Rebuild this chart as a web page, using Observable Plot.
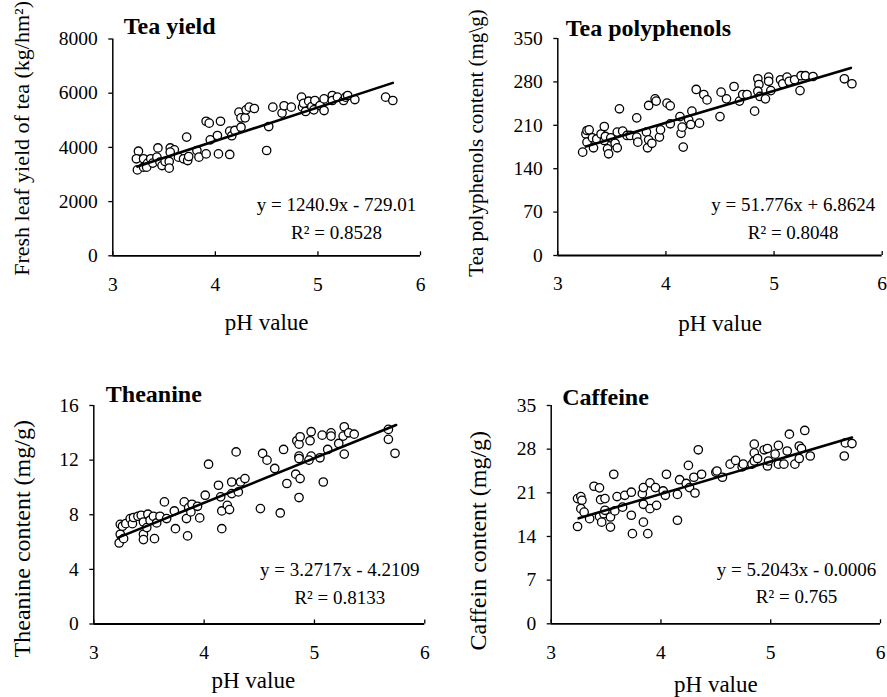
<!DOCTYPE html>
<html><head><meta charset="utf-8">
<script src="https://cdn.jsdelivr.net/npm/d3@7"></script>
<script src="https://cdn.jsdelivr.net/npm/@observablehq/plot@0.6"></script>
<style>
body{margin:0;background:#fff;}
#chart{position:relative;width:887px;height:697px;background:#fff;overflow:hidden;}
.panel{position:absolute;}
</style></head><body><div id="chart"></div>
<script>
// ---------- data ----------
const phTicks = [3, 4, 5, 6];
const panelTitles = ["Tea yield", "Tea polyphenols", "Theanine", "Caffeine"];
const yTitles = ["Fresh leaf yield of tea (kg/hm²)", "Tea polyphenols content (mg\\g)", "Theanine content (mg/g)", "Caffein content (mg/g)"];
const xTitle = "pH value";
const equations = ["y = 1240.9x - 729.01", "y = 51.776x + 6.8624", "y = 3.2717x - 4.2109", "y = 5.2043x - 0.0006"];
const r2Labels = ["R² = 0.8528", "R² = 0.8048", "R² = 0.8133", "R² = 0.765"];
const fitSlope = [1240.9, 51.776, 3.2717, 5.2043];
const fitIntercept = [-729.01, 6.8624, -4.2109, -0.0006];
const fitStart = [3.24, 3.26, 3.22, 3.25];
const fitEnd = [5.73, 5.71, 5.74, 5.74];

const yieldTicks = [0, 2000, 4000, 6000, 8000];
const polyTicks = [0, 70, 140, 210, 280, 350];
const theaTicks = [0, 4, 8, 12, 16];
const caffTicks = [0, 7, 14, 21, 28, 35];

const yieldPH = [3.25,3.23,3.24,3.30,3.30,3.34,3.37,3.33,3.39,3.43,3.44,3.46,3.48,3.51,3.55,3.55,3.56,3.60,3.56,3.64,3.69,3.73,3.74,3.72,3.82,3.84,3.91,3.91,3.94,4.05,3.95,4.02,4.03,4.14,4.14,4.16,4.19,4.25,4.23,4.25,4.29,4.30,4.33,4.38,4.50,4.52,4.56,4.65,4.67,4.74,4.84,4.85,4.86,4.88,4.91,4.94,4.97,4.96,5.02,5.06,5.06,5.14,5.14,5.19,5.25,5.27,5.29,5.36,5.66,5.73];
const yieldVal = [3860,3580,3170,3580,3270,3420,3580,3270,3420,3640,3980,3455,3330,3480,3480,3235,3980,3910,3825,3640,3580,3515,3665,4380,3885,3640,3760,4965,4895,4965,4280,4440,3760,3740,4600,4430,4625,4745,5300,5090,5090,5385,5485,5435,3885,4770,5485,5265,5535,5485,5855,5485,5630,5325,5705,5510,5730,5385,5545,5790,5360,5915,5730,5855,5730,5855,5915,5765,5855,5730];

const polyPH = [3.23,3.26,3.27,3.29,3.27,3.32,3.33,3.36,3.40,3.43,3.43,3.44,3.46,3.47,3.49,3.53,3.55,3.55,3.57,3.60,3.64,3.67,3.73,3.73,3.74,3.82,3.83,3.84,3.84,3.87,3.90,3.94,3.95,4.01,4.04,4.04,4.13,4.14,4.15,4.16,4.21,4.23,4.24,4.28,4.31,4.35,4.38,4.50,4.51,4.56,4.63,4.68,4.71,4.75,4.82,4.85,4.86,4.85,4.87,4.92,4.95,4.95,4.97,5.06,5.08,5.12,5.14,5.19,5.24,5.25,5.29,5.36,5.65,5.72,3.91];
const polyVal = [166.7,196,201.6,202.7,182.8,189.8,173.7,188,196,208,185.5,192,172,164,189.8,181,173.7,199,236.6,200.6,193.6,193.6,222,191,182.8,199,173.7,186.6,242,181,252.7,191,202.7,245.7,241.4,212.4,224,197,207,174.8,218.8,211.3,232.8,267.8,213.5,259.7,251,224,263.5,252.7,272.6,249,259.7,259.7,232.8,285,275.8,265,256.5,252.7,287.7,281,266,283.4,277,287.7,281,283.4,266,290,290,288.7,285,277,249];

const theaPH = [3.23,3.24,3.27,3.24,3.26,3.29,3.33,3.35,3.36,3.40,3.43,3.45,3.45,3.45,3.48,3.49,3.51,3.54,3.55,3.57,3.60,3.64,3.66,3.73,3.74,3.82,3.84,3.85,3.86,3.88,3.89,3.94,3.96,4.01,4.04,4.13,4.15,4.16,4.16,4.21,4.23,4.25,4.25,4.29,4.31,4.33,4.37,4.51,4.53,4.57,4.64,4.69,4.72,4.75,4.83,4.84,4.86,4.87,4.86,4.86,4.87,4.86,4.96,4.97,4.97,4.95,5.05,5.07,5.08,5.12,5.15,5.15,5.22,5.26,5.27,5.27,5.31,5.36,5.67,5.67,5.73];
const theaVal = [5.93,6.57,6.25,7.30,7.16,7.35,7.72,7.35,7.80,7.89,7.96,7.47,6.57,6.18,7.06,8.04,7.6,7.89,6.25,7.40,7.89,8.94,7.72,8.28,6.98,8.94,7.72,6.45,8.52,8.21,8.77,8.62,7.77,9.43,11.7,10.16,9.31,6.98,8.28,8.69,8.38,9.55,10.4,12.6,9.67,10.4,10.65,8.45,12.49,12.0,11.39,8.13,12.78,10.29,10.97,13.42,13.17,13.71,12.29,12.12,10.65,9.26,13.42,14.08,12.29,12.0,12.17,13.83,10.4,12.78,14.0,13.76,13.22,13.76,14.44,12.44,14.0,13.9,14.25,13.52,12.5];

const caffPH = [3.24,3.24,3.27,3.28,3.27,3.30,3.35,3.39,3.44,3.45,3.49,3.44,3.46,3.48,3.49,3.54,3.54,3.57,3.58,3.60,3.65,3.67,3.73,3.73,3.74,3.83,3.84,3.84,3.84,3.88,3.90,3.90,3.95,3.96,4.02,4.04,4.05,4.15,4.15,4.17,4.23,4.25,4.26,4.30,4.31,4.34,4.37,4.50,4.51,4.56,4.63,4.68,4.74,4.75,4.83,4.85,4.85,4.85,4.88,4.94,4.97,4.97,4.98,5.04,5.07,5.07,5.12,5.15,5.17,5.22,5.26,5.26,5.28,5.31,5.36,5.67,5.68,5.74];
const caffVal = [15.6,20.07,20.4,19.8,18.46,17.9,16.86,22.05,21.8,19.9,20.07,17.2,16.3,17.65,18.2,17.12,15.5,23.97,18.1,20.4,18.7,20.6,21.1,17.4,14.45,20.86,16.3,21.84,19.16,14.45,18.46,22.6,21.84,18.99,21.3,20.6,23.97,20.75,16.6,23.1,22.5,25.4,21.84,23.5,20.97,27.9,23.97,24.3,24.5,23.5,25.6,26.2,25.15,25.6,25.6,26.1,27.4,28.8,26.5,27.9,25.3,28.1,26.1,27.2,28.6,25.6,25.6,27.7,30.4,25.6,26.5,28.5,28.1,31.0,26.9,26.9,29.0,28.9];

// ---------- layout (pixels) ----------
const FONT = "Liberation Serif, Times New Roman, serif";
const layout = [
  {left: 0,   top: 0,   w: 443, h: 348, mL: 112.3, mR: 23,   mT: 38.5, mB: 92.7, tdx: 11, tdy: -5.5, ydx: -91, ydy: -9, yfs: 22, xdx: 0,  xdy: 74,   edx: -84, edy1: -45,   edy2: -17},
  {left: 443, top: 0,   w: 444, h: 348, mL: 114.3, mR: 5.3,  mT: 38,   mB: 93,   tdx: 8,  tdy: -3,   ydx: -82, ydy: -4, yfs: 21, xdx: 0,  xdy: 75,   edx: -89, edy1: -45,   edy2: -17},
  {left: 0,   top: 348, w: 443, h: 349, mL: 93.3,  mR: 18.7, mT: 57,   mB: 73.5, tdx: 12, tdy: -3.3, ydx: -71, ydy: 24, yfs: 24, xdx: -6, xdy: 63.5, edx: -85, edy1: -48.5, edy2: -20.5},
  {left: 443, top: 348, w: 444, h: 349, mL: 107.7, mR: 7,    mT: 57,   mB: 73.7, tdx: 11, tdy: -1,   ydx: -73, ydy: 26, yfs: 24, xdx: 0,  xdy: 68.5, edx: -84, edy1: -48,   edy2: -21}
];

const series = [
  {xs: yieldPH, ys: yieldVal, ticks: yieldTicks},
  {xs: polyPH, ys: polyVal, ticks: polyTicks},
  {xs: theaPH, ys: theaVal, ticks: theaTicks},
  {xs: caffPH, ys: caffVal, ticks: caffTicks}
];

const chart = document.getElementById("chart");
const fmt = d => String(d);

series.forEach((s, i) => {
  const L = layout[i];
  const pts = s.xs.map((x, j) => ({x, y: s.ys[j]}));
  const fit = [fitStart[i], fitEnd[i]].map(x => ({x, y: fitSlope[i] * x + fitIntercept[i]}));
  const yDomain = [s.ticks[0], s.ticks[s.ticks.length - 1]];
  const frameH = L.h - L.mT - L.mB;
  const plot = Plot.plot({
    width: L.w, height: L.h,
    marginLeft: L.mL, marginRight: L.mR, marginTop: L.mT, marginBottom: L.mB,
    style: {fontFamily: FONT, fontSize: "19.5px", color: "black", background: "white", overflow: "visible"},
    x: {domain: [phTicks[0], phTicks[phTicks.length - 1]]},
    y: {domain: yDomain},
    marks: [
      Plot.axisY(s.ticks, {tickSize: 4, tickPadding: 11, fontSize: 19.5, fontFamily: FONT, label: null, strokeWidth: 1.3, tickFormat: fmt}),
      Plot.axisX(phTicks, {tickSize: 0, tickPadding: 21, fontSize: 19.5, fontFamily: FONT, label: null, tickFormat: fmt}),
      Plot.tickX(phTicks, {x: d => d, insetTop: frameH - 4, stroke: "black", strokeWidth: 1.3}),
      Plot.ruleY([yDomain[0]], {stroke: "black", strokeWidth: 1.8}),
      Plot.ruleX([phTicks[0]], {stroke: "black", strokeWidth: 1.5}),
      Plot.dot(pts, {x: "x", y: "y", r: 4.2, stroke: "black", fill: "white", strokeWidth: 1.3}),
      Plot.line(fit, {x: "x", y: "y", stroke: "black", strokeWidth: 2.6}),
      Plot.text([panelTitles[i]], {text: d => d, frameAnchor: "top-left", textAnchor: "start", lineAnchor: "bottom", dx: L.tdx, dy: L.tdy, fontWeight: "bold", fontSize: 24, fontFamily: FONT}),
      Plot.text([yTitles[i]], {text: d => d, frameAnchor: "left", textAnchor: "middle", lineAnchor: "middle", rotate: -90, dx: L.ydx, dy: L.ydy, fontSize: L.yfs, fontFamily: FONT}),
      Plot.text([xTitle], {text: d => d, frameAnchor: "bottom", textAnchor: "middle", lineAnchor: "bottom", dx: L.xdx, dy: L.xdy, fontSize: 23, fontFamily: FONT}),
      Plot.text([equations[i]], {text: d => d, frameAnchor: "bottom-right", textAnchor: "middle", lineAnchor: "bottom", dx: L.edx, dy: L.edy1, fontSize: 19, fontFamily: FONT}),
      Plot.text([r2Labels[i]], {text: d => d, frameAnchor: "bottom-right", textAnchor: "middle", lineAnchor: "bottom", dx: L.edx, dy: L.edy2, fontSize: 19, fontFamily: FONT})
    ]
  });
  const div = document.createElement("div");
  div.className = "panel";
  div.style.left = L.left + "px";
  div.style.top = L.top + "px";
  div.appendChild(plot);
  chart.appendChild(div);
});
</script>
</body></html>
